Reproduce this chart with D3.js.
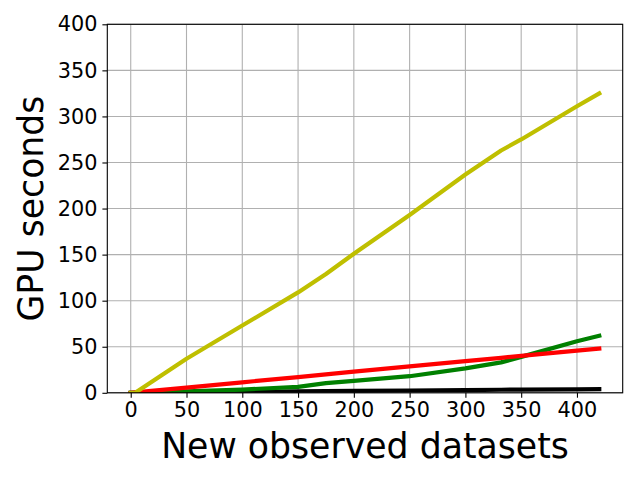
<!DOCTYPE html>
<html lang="en">
<head>
<meta charset="UTF-8">
<title>GPU seconds</title>
<style>
  body { margin: 0; background: #fff; }
  svg { display: block; font-family: "DejaVu Sans", sans-serif; }
</style>
</head>
<body>
<svg class="chart"></svg>
<script src="https://cdnjs.cloudflare.com/ajax/libs/d3/7.8.5/d3.min.js"></script>
<script>
// data
const datasets = [0, 4, 50, 100, 150, 175, 200, 250, 300, 332, 350, 400, 420];
const yellowSeries = [0, 0, 37, 73, 109, 129, 151, 193, 237, 263, 275, 311, 325];
const redSeries = [0, 0.5, 5.7, 11.4, 17.1, 20, 22.9, 28.6, 34.3, 38, 40, 45.7, 48];
const greenSeries = [0, 0, 1.5, 3.5, 6.5, 10.5, 13, 18, 26.5, 33, 39, 56, 62];
const blackSeries = [0, 0, 0.5, 1, 1.5, 1.8, 2, 2.5, 3, 3.3, 3.5, 3.8, 4];
const xTicks = [0, 50, 100, 150, 200, 250, 300, 350, 400];
const yTicks = [0, 50, 100, 150, 200, 250, 300, 350, 400];

const width = 640, height = 480;
const margin = {top: 24.3, left: 107.3, right: 17.3, bottom: 87.2};
const innerWidth = width - margin.left - margin.right;
const innerHeight = height - margin.top - margin.bottom;

const svg = d3.select('.chart').attr('width', width).attr('height', height);
const chart = svg.append('g').attr('transform', `translate(${margin.left},${margin.top})`);

const xScale = d3.scaleLinear().domain([-21, 441]).range([0, innerWidth]);
const yScale = d3.scaleLinear().domain([0, 400]).range([innerHeight, 0]);

// grid
chart.append('g').selectAll('line').data(xTicks).enter().append('line')
  .attr('x1', d => xScale(d)).attr('x2', d => xScale(d))
  .attr('y1', 0).attr('y2', innerHeight)
  .attr('stroke', '#b0b0b0').attr('stroke-width', 1.1);
chart.append('g').selectAll('line').data(yTicks).enter().append('line')
  .attr('y1', d => yScale(d)).attr('y2', d => yScale(d))
  .attr('x1', 0).attr('x2', innerWidth)
  .attr('stroke', '#b0b0b0').attr('stroke-width', 1.1);

// lines, clipped to the axes box
svg.append('defs').append('clipPath').attr('id', 'clip')
  .append('rect').attr('width', innerWidth).attr('height', innerHeight);

const line = d3.line().x((d, i) => xScale(datasets[i])).y(d => yScale(d));
const series = [
  {values: blackSeries, color: '#000000'},
  {values: greenSeries, color: '#008000'},
  {values: redSeries, color: '#ff0000'},
  {values: yellowSeries, color: '#bfbf00'}
];
chart.append('g').attr('clip-path', 'url(#clip)')
  .selectAll('path').data(series).enter().append('path')
  .attr('d', d => line(d.values))
  .attr('fill', 'none')
  .attr('stroke', d => d.color)
  .attr('stroke-width', 4.2)
  .attr('stroke-linejoin', 'round')
  .attr('stroke-linecap', 'square');

// axes
const xAxis = d3.axisBottom(xScale).tickValues(xTicks).tickSize(4.9).tickPadding(4.9);
const yAxis = d3.axisLeft(yScale).tickValues(yTicks).tickSize(4.9).tickPadding(4.9);

const gx = chart.append('g').attr('transform', `translate(0,${innerHeight})`).call(xAxis);
const gy = chart.append('g').call(yAxis);
[gx, gy].forEach(g => {
  g.attr('font-size', null).attr('font-family', null);
  g.select('.domain').remove();
  g.selectAll('.tick line').attr('stroke', '#000').attr('stroke-width', 1.1);
  g.selectAll('.tick text').attr('fill', '#000').style('font-size', '20.8px');
});

// frame
chart.append('rect').attr('width', innerWidth).attr('height', innerHeight)
  .attr('fill', 'none').attr('stroke', '#000').attr('stroke-width', 1.1);

// axis titles
svg.append('text')
  .attr('x', margin.left + innerWidth / 2).attr('y', 458)
  .attr('text-anchor', 'middle').style('font-size', '34.7px')
  .text('New observed datasets');
svg.append('text')
  .attr('transform', `translate(43,${margin.top + innerHeight / 2}) rotate(-90)`)
  .attr('text-anchor', 'middle').style('font-size', '34.7px')
  .text('GPU seconds');
</script>
</body>
</html>
